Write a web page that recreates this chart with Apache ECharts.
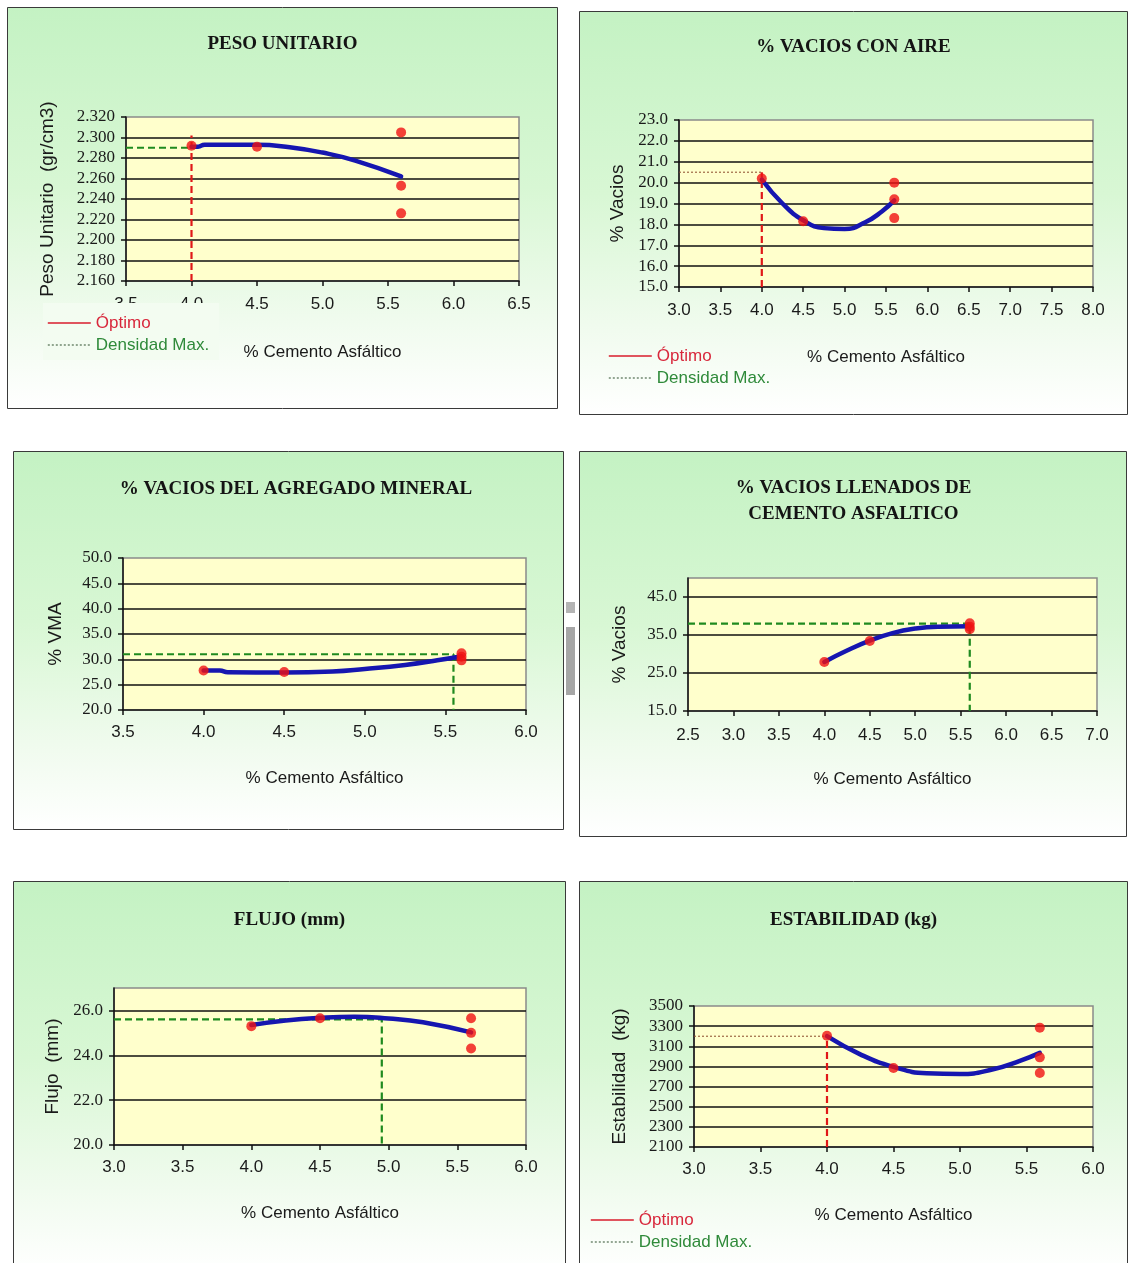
<!DOCTYPE html>
<html>
<head>
<meta charset="utf-8">
<title>Diseño Marshall</title>
<script src="https://cdn.jsdelivr.net/npm/echarts@6/dist/echarts.min.js"></script>
<style>
  html, body { margin: 0; padding: 0; background: #ffffff; width: 1128px; height: 1263px; overflow: hidden; }
  .panel { position: absolute; }
</style>
</head>
<body>
<div id="p1" class="panel" style="left:7px;top:7px;width:551px;height:402px"></div>
<div id="p2" class="panel" style="left:579px;top:11px;width:549px;height:404px"></div>
<div id="p3" class="panel" style="left:13px;top:451px;width:566px;height:379px"></div>
<div id="p4" class="panel" style="left:579px;top:451px;width:549px;height:386px"></div>
<div id="p5" class="panel" style="left:13px;top:881px;width:553px;height:382px"></div>
<div id="p6" class="panel" style="left:579px;top:881px;width:549px;height:382px"></div>
<script>
// % de cemento asfáltico de las briquetas ensayadas
const briquetasAC = [4.0, 4.5, 5.6, 5.6, 5.6];

// Peso unitario (gr/cm3)
const pesoUnitario = [2.292, 2.291, 2.305, 2.253, 2.226];
const pesoCurvaAC = [4.0, 4.05, 4.1, 4.5, 4.75, 5.0, 5.25, 5.6];
const pesoCurva = [2.291, 2.291, 2.293, 2.293, 2.2905, 2.2853, 2.2775, 2.262];
const pesoEjeX = [3.5, 6.5, 0.5];
const pesoEjeY = [2.160, 2.320, 0.02];
const pesoOptimo = [4.0, 2.302];      // % AC, tope de la guía
const pesoDensidad = [2.290, 4.0];    // valor, % AC donde termina

// % vacíos con aire
const vaciosAire = [20.2, 18.15, 20.0, 19.2, 18.3];
const vaciosCurvaAC = [4.0, 4.25, 4.5, 4.75, 5.0, 5.25, 5.45, 5.6];
const vaciosCurva = [20.15, 19.0, 18.2, 17.82, 17.78, 18.1, 18.62, 19.15];
const vaciosEjeX = [3.0, 8.0, 0.5];
const vaciosEjeY = [15.0, 23.0, 1.0];
const vaciosOptimo = [4.0, 20.5];
const vaciosDensidad = [20.5, 4.0];

// % vacíos del agregado mineral
const vma = [27.8, 27.5, 31.2, 30.5, 29.8];
const vmaCurvaAC = [4.0, 4.1, 4.15, 4.5, 4.8, 5.0, 5.25, 5.45, 5.6];
const vmaCurva = [27.8, 27.8, 27.45, 27.4, 27.6, 28.1, 28.9, 29.8, 30.6];
const vmaEjeX = [3.5, 6.0, 0.5];
const vmaEjeY = [20.0, 50.0, 5.0];
const vmaDensidad = [31.0, 5.55];

// % vacíos llenados de cemento asfáltico
const vfa = [27.9, 33.4, 38.1, 37.2, 36.5];
const vfaCurvaAC = [4.0, 4.25, 4.5, 4.75, 5.0, 5.25, 5.6];
const vfaCurva = [27.9, 30.9, 33.5, 35.5, 36.7, 37.2, 37.3];
const vfaEjeX = [2.5, 7.0, 0.5];
const vfaEjeY = [15.0, 50.0, 10.0];
const vfaDensidad = [38.0, 5.6];

// Flujo (mm)
const flujo = [25.3, 25.65, 25.65, 25.0, 24.3];
const flujoCurvaAC = [4.0, 4.25, 4.5, 4.75, 5.0, 5.25, 5.6];
const flujoCurva = [25.35, 25.55, 25.67, 25.72, 25.64, 25.47, 25.02];
const flujoEjeX = [3.0, 6.0, 0.5];
const flujoEjeY = [20.0, 27.0, 2.0];
const flujoDensidad = [25.6, 4.95];

// Estabilidad (kg)
const estabilidad = [3205, 2885, 3285, 2990, 2835];
const estabCurvaAC = [4.0, 4.25, 4.5, 4.75, 5.0, 5.25, 5.45, 5.6];
const estabCurva = [3200, 3020, 2895, 2832, 2824, 2872, 2955, 3035];
const estabEjeX = [3.0, 6.0, 0.5];
const estabEjeY = [2100, 3500, 200];
const estabOptimo = [4.0, 3200];
const estabDensidad = [3200, 4.0];

const SERIF = "'Liberation Serif', 'Times New Roman', serif";
const SANS = "'Liberation Sans', Arial, sans-serif";
const X_NAME = '% Cemento Asfáltico';

const panelFill = {
  type: 'linear', x: 0, y: 0, x2: 0, y2: 1,
  colorStops: [
    { offset: 0, color: '#c4f2c3' },
    { offset: 0.45, color: '#d8f7d4' },
    { offset: 0.78, color: '#f0fbee' },
    { offset: 1, color: '#ffffff' }
  ]
};

const GREEN_DASH = { color: '#1f8a1f', width: 2.2, type: [7, 4] };
const BROWN_DOT = { color: '#8a4a2a', width: 1, type: [2, 2] };
const RED_DASH = { color: '#e01818', width: 2.2, type: [7, 4] };
const NO_SYMBOL = { color: 'rgba(0,0,0,0)', borderColor: 'rgba(0,0,0,0)', borderWidth: 0, opacity: 0 };

function pairs(xs, ys) { return xs.map((x, i) => [x, ys[i]]); }

function drawPanel(id, cfg) {
  const el = document.getElementById(id);
  const chart = echarts.init(el, null, { renderer: 'canvas' });
  const W = cfg.boxW, H = cfg.boxH;
  const graphics = [{
    type: 'rect', z: -100, silent: true,
    shape: { x: 0.5, y: 0.5, width: W - 1, height: H - 1 },
    style: { fill: panelFill, stroke: '#3a3a3a', lineWidth: 1 }
  }].concat(cfg.extraGraphics || []);

  const [xMin, xMax, xStep] = cfg.ejeX;
  const [yMin, yMax, yStep] = cfg.ejeY;

  const series = [];
  if (cfg.densidad) {
    const [val, ac] = cfg.densidad;
    const d = [[xMin, val], [ac, val]];
    if (cfg.densidadDrop) d.push([ac, yMin]);
    series.push({
      name: 'Densidad Max.', type: 'line', data: d, symbol: 'none',
      lineStyle: cfg.densidadStyle, itemStyle: NO_SYMBOL, z: 2, silent: true
    });
  }
  if (cfg.optimo) {
    const [ac, top] = cfg.optimo;
    series.push({
      name: 'Óptimo', type: 'line', data: [[ac, yMin], [ac, top]], symbol: 'none',
      lineStyle: RED_DASH, itemStyle: NO_SYMBOL, z: 2, silent: true
    });
  }
  series.push({
    name: 'Curva', type: 'line', data: pairs(cfg.curvaX, cfg.curvaY),
    symbol: 'none', smooth: 0.5,
    lineStyle: { color: '#1616b0', width: 4.5, cap: 'round', join: 'round' }, z: 3, silent: true
  });
  series.push({
    name: 'Ensayos', type: 'scatter', data: pairs(briquetasAC, cfg.puntos),
    symbol: 'circle', symbolSize: 10,
    itemStyle: { color: '#f01212' }, z: 4, silent: true
  });

  const option = {
    animation: false,
    title: {
      text: cfg.title, left: 'center', top: cfg.titleTop,
      textStyle: { fontFamily: SERIF, fontWeight: 'bold', fontSize: 19, color: '#141414', lineHeight: 26 }
    },
    graphic: graphics,
    grid: {
      left: cfg.grid[0], top: cfg.grid[1], width: cfg.grid[2], height: cfg.grid[3],
      show: true, backgroundColor: '#ffffcc', borderColor: '#8a8a8a', borderWidth: 1.5,
      containLabel: false
    },
    xAxis: {
      type: 'value', min: xMin, max: xMax, interval: xStep,
      name: X_NAME, nameLocation: 'middle', nameGap: cfg.xNameGap,
      nameTextStyle: { fontFamily: SANS, fontSize: 17, color: '#1a1a1a' },
      axisLine: { show: true, lineStyle: { color: '#111', width: 1.5 } },
      axisTick: { show: true, inside: false, length: 5, lineStyle: { color: '#111', width: 1.5 } },
      axisLabel: {
        margin: cfg.xLabelMargin, fontFamily: SANS, fontSize: 17, color: '#1a1a1a',
        formatter: v => v.toFixed(1)
      },
      splitLine: { show: false }
    },
    yAxis: {
      type: 'value', min: yMin, max: yMax, interval: yStep,
      name: cfg.yName, nameLocation: 'middle', nameGap: cfg.yNameGap, nameRotate: 90,
      nameTextStyle: { fontFamily: SANS, fontSize: 19, color: '#1a1a1a' },
      axisLine: { show: true, lineStyle: { color: '#111', width: 1.5 } },
      axisTick: { show: true, inside: false, length: 5, lineStyle: { color: '#111', width: 1.5 } },
      axisLabel: {
        margin: 11, fontFamily: SERIF, fontSize: 17, color: '#1a1a1a',
        showMaxLabel: cfg.showMaxY !== false,
        formatter: v => v.toFixed(cfg.yDigits)
      },
      splitLine: { show: true, showMaxLine: false, showMinLine: false, lineStyle: { color: '#111', width: 1.5 } }
    },
    series: series
  };

  if (cfg.legend) {
    option.legend = {
      orient: 'vertical', left: cfg.legend[0], top: cfg.legend[1],
      itemWidth: 43, itemHeight: 14, itemGap: 2, selectedMode: false,
      padding: cfg.legendPadding || 0,
      backgroundColor: cfg.legendBg || 'transparent',
      textStyle: { fontFamily: SANS, fontSize: 17, lineHeight: 20 },
      data: [
        { name: 'Óptimo', itemStyle: NO_SYMBOL, lineStyle: { color: '#d81c2c', width: 1.6, type: 'solid' }, textStyle: { color: '#d8283c' } },
        { name: 'Densidad Max.', itemStyle: NO_SYMBOL, lineStyle: { color: '#2f4f2f', width: 1, type: [2, 2] }, textStyle: { color: '#2f8a3a' } }
      ]
    };
  }
  chart.setOption(option);
}

drawPanel('p1', {
  boxW: 551, boxH: 402, title: 'PESO UNITARIO', titleTop: 19,
  grid: [119, 110, 393, 164], ejeX: pesoEjeX, ejeY: pesoEjeY, yDigits: 3,
  yName: 'Peso Unitario  (gr/cm3)', yNameGap: 69, xNameGap: 63, xLabelMargin: 15,
  puntos: pesoUnitario, curvaX: pesoCurvaAC, curvaY: pesoCurva,
  optimo: pesoOptimo, densidad: pesoDensidad, densidadStyle: GREEN_DASH,
  legend: [36, 296], legendPadding: [10, 10, 5, 4], legendBg: '#f3fcf1'
});

drawPanel('p2', {
  boxW: 549, boxH: 404, title: '% VACIOS CON AIRE', titleTop: 18,
  grid: [100, 109, 414, 167], ejeX: vaciosEjeX, ejeY: vaciosEjeY, yDigits: 1,
  yName: '% Vacios', yNameGap: 50, xNameGap: 62, xLabelMargin: 15,
  puntos: vaciosAire, curvaX: vaciosCurvaAC, curvaY: vaciosCurva,
  optimo: vaciosOptimo, densidad: vaciosDensidad, densidadStyle: BROWN_DOT,
  legend: [29, 335]
});

drawPanel('p3', {
  boxW: 551, boxH: 379, title: '% VACIOS DEL AGREGADO MINERAL', titleTop: 20,
  grid: [110, 107, 403, 152], ejeX: vmaEjeX, ejeY: vmaEjeY, yDigits: 1,
  yName: '% VMA', yNameGap: 58, xNameGap: 60, xLabelMargin: 14,
  puntos: vma, curvaX: vmaCurvaAC, curvaY: vmaCurva,
  densidad: vmaDensidad, densidadDrop: true, densidadStyle: GREEN_DASH,
  extraGraphics: [
    { type: 'rect', silent: true, shape: { x: 553, y: 151, width: 9, height: 11 }, style: { fill: '#b4b4b4' } },
    { type: 'rect', silent: true, shape: { x: 553, y: 176, width: 9, height: 68 }, style: { fill: '#a6a6a6' } }
  ]
});

drawPanel('p4', {
  boxW: 548, boxH: 386, title: '% VACIOS LLENADOS DE\nCEMENTO ASFALTICO', titleTop: 19,
  grid: [109, 127, 409, 133], ejeX: vfaEjeX, ejeY: vfaEjeY, yDigits: 1, showMaxY: false,
  yName: '% Vacios', yNameGap: 59, xNameGap: 60, xLabelMargin: 16,
  puntos: vfa, curvaX: vfaCurvaAC, curvaY: vfaCurva,
  densidad: vfaDensidad, densidadDrop: true, densidadStyle: GREEN_DASH
});

drawPanel('p5', {
  boxW: 553, boxH: 392, title: 'FLUJO (mm)', titleTop: 21,
  grid: [101, 107, 412, 157], ejeX: flujoEjeX, ejeY: flujoEjeY, yDigits: 1, showMaxY: false,
  yName: 'Flujo  (mm)', yNameGap: 52, xNameGap: 60, xLabelMargin: 14,
  puntos: flujo, curvaX: flujoCurvaAC, curvaY: flujoCurva,
  densidad: flujoDensidad, densidadDrop: true, densidadStyle: GREEN_DASH
});

drawPanel('p6', {
  boxW: 549, boxH: 392, title: 'ESTABILIDAD (kg)', titleTop: 21,
  grid: [115, 125, 399, 141], ejeX: estabEjeX, ejeY: estabEjeY, yDigits: 0,
  yName: 'Estabilidad  (kg)', yNameGap: 65, xNameGap: 60, xLabelMargin: 14,
  puntos: estabilidad, curvaX: estabCurvaAC, curvaY: estabCurva,
  optimo: estabOptimo, densidad: estabDensidad, densidadStyle: BROWN_DOT,
  legend: [11, 329]
});
</script>
</body>
</html>
